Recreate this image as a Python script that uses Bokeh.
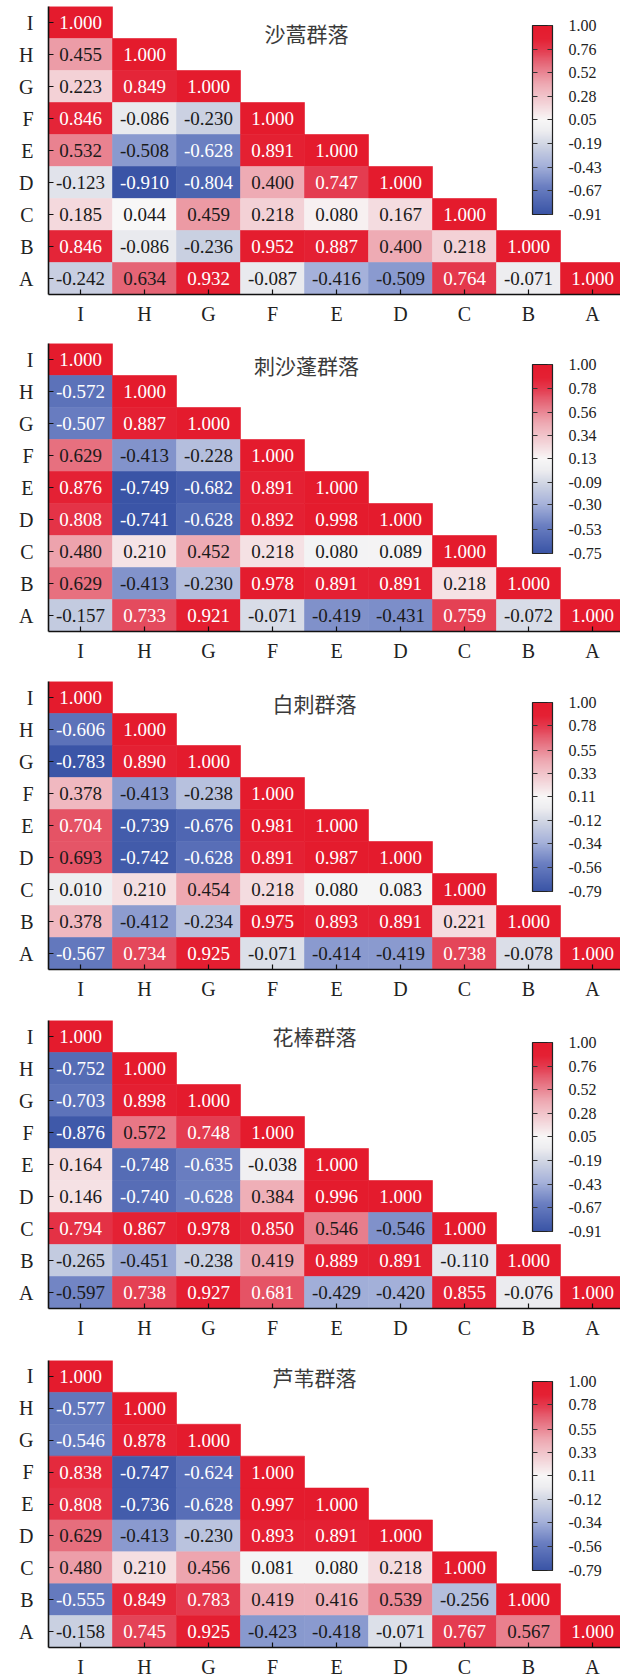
from bokeh.plotting import figure
from bokeh.models import (ColumnDataSource, Range1d, FixedTicker, LinearColorMapper,
                          ColorBar, Label, PrintfTickFormatter, AllLabels)
from bokeh.transform import transform
from bokeh.layouts import column
from bokeh.core.properties import value
from bokeh.embed import file_html
from bokeh.resources import INLINE

# ---- data -------------------------------------------------------------
factors = ["I", "H", "G", "F", "E", "D", "C", "B", "A"]

titles = ["沙蒿群落", "刺沙蓬群落", "白刺群落", "花棒群落", "芦苇群落"]

# lower-triangle correlation rows, row I first, columns I..A
shahao = [
    [1.000],
    [0.455, 1.000],
    [0.223, 0.849, 1.000],
    [0.846, -0.086, -0.230, 1.000],
    [0.532, -0.508, -0.628, 0.891, 1.000],
    [-0.123, -0.910, -0.804, 0.400, 0.747, 1.000],
    [0.185, 0.044, 0.459, 0.218, 0.080, 0.167, 1.000],
    [0.846, -0.086, -0.236, 0.952, 0.887, 0.400, 0.218, 1.000],
    [-0.242, 0.634, 0.932, -0.087, -0.416, -0.509, 0.764, -0.071, 1.000],
]
cishapeng = [
    [1.000],
    [-0.572, 1.000],
    [-0.507, 0.887, 1.000],
    [0.629, -0.413, -0.228, 1.000],
    [0.876, -0.749, -0.682, 0.891, 1.000],
    [0.808, -0.741, -0.628, 0.892, 0.998, 1.000],
    [0.480, 0.210, 0.452, 0.218, 0.080, 0.089, 1.000],
    [0.629, -0.413, -0.230, 0.978, 0.891, 0.891, 0.218, 1.000],
    [-0.157, 0.733, 0.921, -0.071, -0.419, -0.431, 0.759, -0.072, 1.000],
]
baici = [
    [1.000],
    [-0.606, 1.000],
    [-0.783, 0.890, 1.000],
    [0.378, -0.413, -0.238, 1.000],
    [0.704, -0.739, -0.676, 0.981, 1.000],
    [0.693, -0.742, -0.628, 0.891, 0.987, 1.000],
    [0.010, 0.210, 0.454, 0.218, 0.080, 0.083, 1.000],
    [0.378, -0.412, -0.234, 0.975, 0.893, 0.891, 0.221, 1.000],
    [-0.567, 0.734, 0.925, -0.071, -0.414, -0.419, 0.738, -0.078, 1.000],
]
huabang = [
    [1.000],
    [-0.752, 1.000],
    [-0.703, 0.898, 1.000],
    [-0.876, 0.572, 0.748, 1.000],
    [0.164, -0.748, -0.635, -0.038, 1.000],
    [0.146, -0.740, -0.628, 0.384, 0.996, 1.000],
    [0.794, 0.867, 0.978, 0.850, 0.546, -0.546, 1.000],
    [-0.265, -0.451, -0.238, 0.419, 0.889, 0.891, -0.110, 1.000],
    [-0.597, 0.738, 0.927, 0.681, -0.429, -0.420, 0.855, -0.076, 1.000],
]
luwei = [
    [1.000],
    [-0.577, 1.000],
    [-0.546, 0.878, 1.000],
    [0.838, -0.747, -0.624, 1.000],
    [0.808, -0.736, -0.628, 0.997, 1.000],
    [0.629, -0.413, -0.230, 0.893, 0.891, 1.000],
    [0.480, 0.210, 0.456, 0.081, 0.080, 0.218, 1.000],
    [-0.555, 0.849, 0.783, 0.419, 0.416, 0.539, -0.256, 1.000],
    [-0.158, 0.745, 0.925, -0.423, -0.418, -0.071, 0.767, 0.567, 1.000],
]

bar_ticks_a = [1.00, 0.76, 0.52, 0.28, 0.05, -0.19, -0.43, -0.67, -0.91]
bar_ticks_b = [1.00, 0.78, 0.56, 0.34, 0.13, -0.09, -0.30, -0.53, -0.75]
bar_ticks_c = [1.00, 0.78, 0.55, 0.33, 0.11, -0.12, -0.34, -0.56, -0.79]

matrices = [shahao, cishapeng, baici, huabang, luwei]
bar_ticks = [bar_ticks_a, bar_ticks_b, bar_ticks_c, bar_ticks_a, bar_ticks_c]

# ---- styling ----------------------------------------------------------
SERIF = "Liberation Serif"
CJK = "Noto Sans CJK SC"

# blue -> white -> red ramp
stops = [
    (0.00, (58, 84, 166)),
    (0.15, (108, 128, 194)),
    (0.26, (166, 178, 218)),
    (0.36, (204, 210, 226)),
    (0.44, (237, 237, 240)),
    (0.50, (248, 247, 247)),
    (0.59, (243, 210, 215)),
    (0.69, (238, 170, 179)),
    (0.81, (229, 99, 116)),
    (0.87, (228, 60, 80)),
    (0.93, (228, 33, 52)),
    (1.00, (228, 27, 45)),
]


def ramp(n=256):
    cols = []
    for i in range(n):
        t = i / (n - 1)
        for (t0, c0), (t1, c1) in zip(stops[:-1], stops[1:]):
            if t0 <= t <= t1:
                f = (t - t0) / (t1 - t0) if t1 > t0 else 0
                rgb = tuple(int(round(a + (b - a) * f)) for a, b in zip(c0, c1))
                break
        cols.append(rgb)
    return cols


rgb_palette = ramp()
palette = ["#%02x%02x%02x" % c for c in rgb_palette]

FRAME_LEFT = 48
CELL_W = 64
CELL_H = 32
FIG_W = 620
BAR_X = 532
BAR_W = 20
BAR_H = 189
heights = [337, 338, 339, 340, 326]
bottoms = [43, 44, 45, 46, 32]
title_x = [306, 306, 314, 314, 314]
title_dy = [26, 21, 21, 15, 17]
bar_top = [19, 21, 21, 22, 22]


def make_panel(k):
    rows = matrices[k]
    ticks = bar_ticks[k]
    high = max(ticks)
    low = min(ticks)
    mapper = LinearColorMapper(palette=palette, low=low, high=high)

    xs, ys, vals, texts, tcolors = [], [], [], [], []
    n = len(factors)
    for r, row in enumerate(rows):
        for c, v in enumerate(row):
            xs.append(c + 0.5)
            ys.append(n - r - 0.5)
            vals.append(v)
            texts.append("%.3f" % v)
            idx = int((v - low) / (high - low) * 255)
            idx = max(0, min(255, idx))
            R, G, B = rgb_palette[idx]
            lum = 0.299 * R + 0.587 * G + 0.114 * B
            tcolors.append("white" if lum < 132 else "#1a1a1a")
    src = ColumnDataSource(dict(x=xs, y=ys, v=vals, t=texts, tc=tcolors))

    frame_w = FIG_W - FRAME_LEFT
    p = figure(width=FIG_W, height=heights[k],
               x_range=Range1d(0, frame_w / CELL_W), y_range=Range1d(0, n),
               output_backend="svg", toolbar_location=None,
               min_border_left=FRAME_LEFT, min_border_right=0,
               min_border_top=6, min_border_bottom=bottoms[k])
    p.outline_line_color = None
    p.grid.visible = False
    p.background_fill_color = "white"
    p.border_fill_color = "white"

    p.rect(x="x", y="y", width=1, height=1, source=src,
           fill_color=transform("v", mapper), line_color=transform("v", mapper),
           line_width=0.6)
    p.text(x="x", y="y", text="t", source=src, text_align="center",
           text_baseline="middle", text_font=value(SERIF), text_font_size="19px",
           text_color="tc")

    centers = [i + 0.5 for i in range(n)]
    p.xaxis.ticker = FixedTicker(ticks=centers)
    p.xaxis.major_label_overrides = {centers[i]: factors[i] for i in range(n)}
    p.yaxis.ticker = FixedTicker(ticks=centers)
    p.yaxis.major_label_overrides = {centers[i]: factors[n - 1 - i] for i in range(n)}
    for ax in (p.xaxis, p.yaxis):
        ax.axis_line_color = "#111111"
        ax.axis_line_width = 1.6
        ax.major_tick_line_color = "#111111"
        ax.major_tick_line_width = 1.2
        ax.major_tick_in = 5
        ax.major_tick_out = 0
        ax.minor_tick_in = 0
        ax.minor_tick_out = 0
        ax.major_label_text_font = SERIF
        ax.major_label_text_font_size = "20px"
        ax.major_label_text_color = "#222222"
    p.xaxis.major_label_standoff = 8
    p.yaxis.major_label_standoff = 15

    frame_h = n * CELL_H
    title = Label(x=(title_x[k] - FRAME_LEFT) / CELL_W,
                  y=n - title_dy[k] / CELL_H, text=titles[k],
                  text_align="center", text_baseline="middle",
                  text_font=CJK, text_font_size="21px", text_color="#3a3a3a")
    p.add_layout(title)

    bar_y = frame_h - bar_top[k] - BAR_H
    bar = ColorBar(color_mapper=mapper, width=BAR_W, height=BAR_H,
                   location=(BAR_X - FRAME_LEFT, bar_y),
                   padding=0, margin=0,
                   ticker=FixedTicker(ticks=ticks),
                   formatter=PrintfTickFormatter(format="%.2f"),
                   major_label_policy=AllLabels(),
                   major_label_text_font=SERIF, major_label_text_font_size="16px",
                   major_label_text_color="#222222",
                   major_tick_in=5, major_tick_out=0,
                   major_tick_line_color="#333333", major_tick_line_width=1.2,
                   minor_tick_line_color=None,
                   bar_line_color="#222222", bar_line_width=1.2,
                   label_standoff=16,
                   background_fill_alpha=0, border_line_color=None)
    p.add_layout(bar, "center")

    # companion scale sitting just left of the bar: only its outward ticks
    # show, giving the bar tick marks on its left edge as well
    left_ticks = ColorBar(color_mapper=mapper, width=BAR_W, height=BAR_H,
                          location=(BAR_X - FRAME_LEFT - BAR_W, bar_y),
                          padding=0, margin=0, scale_alpha=0,
                          ticker=FixedTicker(ticks=ticks[1:-1]),
                          major_label_text_alpha=0,
                          major_label_text_font_size="16px",
                          major_tick_in=0, major_tick_out=5,
                          major_tick_line_color="#333333", major_tick_line_width=1.2,
                          minor_tick_line_color=None, bar_line_color=None,
                          background_fill_alpha=0, border_line_color=None)
    p.add_layout(left_ticks, "center")
    return p


figs = [make_panel(k) for k in range(len(titles))]
page = column(*figs, spacing=0)

open("out.html", "w").write(file_html(page, INLINE))
